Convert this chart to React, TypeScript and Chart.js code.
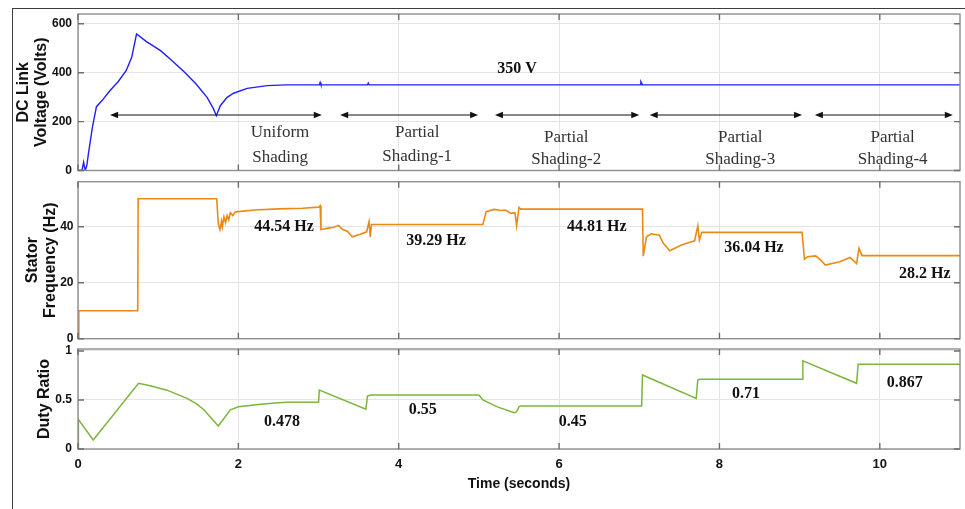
import React, { useEffect, useRef } from 'react';
import { Chart, registerables } from 'chart.js';

Chart.register(...registerables);

// ---------- shared x axis ----------
const X_TICKS = [0, 2, 4, 6, 8, 10];
const X_MIN = 0;
const X_MAX = 11;
const X_TITLE = 'Time (seconds)';

// ---------- panel 1: DC link voltage ----------
const VOLT_T = [0, 0.05, 0.07, 0.09, 0.11, 0.13, 0.18, 0.23, 0.3, 0.4, 0.5, 0.6, 0.67, 0.73, 0.85, 1.03, 1.17, 1.32, 1.47, 1.61, 1.69, 1.725, 1.775, 1.86, 1.94, 2.11, 2.36, 2.6, 3.01, 3.02, 3.03, 3.61, 3.62, 3.63, 7.01, 7.02, 7.04, 11];
const VOLT_V = [0, 0, 34, 0, 20, 69, 177, 261, 286, 327, 363, 408, 463, 558, 528, 490, 450, 405, 355, 299, 252, 224, 265, 299, 316, 336, 347, 350, 350, 360, 350, 350, 357, 350, 350, 363, 350, 350];
const VOLT_TICKS = [0, 200, 400, 600];
const VOLT_MAX = 640;
const VOLT_TITLE = ['DC Link', 'Voltage (Volts)'];
const VOLT_LABEL = '350 V';
const REGION_NAMES = [
  ['Uniform', 'Shading'],
  ['Partial', 'Shading-1'],
  ['Partial', 'Shading-2'],
  ['Partial', 'Shading-3'],
  ['Partial', 'Shading-4'],
];
const REGION_SPANS = [
  [0.4, 3.04],
  [3.27, 4.99],
  [5.2, 7.0],
  [7.13, 9.03],
  [9.19, 10.91],
];

// ---------- panel 2: stator frequency ----------
const FREQ_T = [0, 0.01, 0.745, 0.75, 1.73, 1.75, 1.77, 1.79, 1.8, 1.82, 1.84, 1.86, 1.88, 1.9, 1.93, 1.96, 2.0, 2.2, 2.5, 2.8, 3.0, 3.02, 3.03, 3.12, 3.19, 3.25, 3.3, 3.36, 3.42, 3.52, 3.6, 3.63, 3.645, 3.66, 5.05, 5.09, 5.19, 5.27, 5.33, 5.4, 5.45, 5.47, 5.5, 5.52, 7.04, 7.05, 7.09, 7.15, 7.25, 7.3, 7.38, 7.52, 7.6, 7.69, 7.73, 7.75, 7.78, 9.03, 9.06, 9.1, 9.2, 9.27, 9.32, 9.5, 9.63, 9.71, 9.74, 9.78, 11];
const FREQ_F = [0, 10, 10, 50, 50, 41, 39, 42, 40, 43.5, 41.5, 44, 42.5, 45, 44, 45.3, 45.4, 46, 46.4, 46.6, 47, 47.5, 39, 39.5, 39.8, 40.5, 39, 38.4, 36.4, 37.3, 38.2, 41.8, 36.4, 40.8, 40.8, 45.4, 46.2, 45.8, 46, 44.8, 45, 40.3, 46.9, 46.3, 46.3, 29.5, 36.4, 37.5, 37, 34.1, 31.4, 33.4, 34.2, 35, 40.3, 35.2, 38, 38, 28.4, 29.3, 29.6, 27.9, 26.3, 27.5, 29, 26.8, 32.3, 29.7, 29.7];
const FREQ_TICKS = [0, 20, 40];
const FREQ_MAX = 56.1;
const FREQ_TITLE = ['Stator', 'Frequency (Hz)'];
const FREQ_LABELS = ['44.54 Hz', '39.29 Hz', '44.81 Hz', '36.04 Hz', '28.2 Hz'];

// ---------- panel 3: duty ratio ----------
const DUTY_T = [0, 0.005, 0.19, 0.755, 0.9, 1.11, 1.36, 1.47, 1.57, 1.75, 1.9, 2.0, 2.25, 2.42, 2.6, 3.0, 3.01, 3.59, 3.61, 3.65, 5.0, 5.05, 5.23, 5.44, 5.47, 5.5, 5.52, 7.03, 7.04, 7.71, 7.73, 7.75, 9.03, 9.04, 9.71, 9.73, 11];
const DUTY_D = [0, 0.3, 0.092, 0.67, 0.645, 0.6, 0.517, 0.465, 0.4, 0.235, 0.4, 0.43, 0.455, 0.466, 0.476, 0.476, 0.6, 0.405, 0.54, 0.551, 0.551, 0.5, 0.43, 0.37, 0.38, 0.43, 0.439, 0.439, 0.755, 0.517, 0.704, 0.711, 0.711, 0.9, 0.67, 0.864, 0.864];
const DUTY_TICKS = [0, 0.5, 1];
const DUTY_MAX = 1.02;
const DUTY_TITLE = 'Duty Ratio';
const DUTY_LABELS = ['0.478', '0.55', '0.45', '0.71', '0.867'];

// ---------- annotation placement (data units) ----------
const VOLT_LABEL_POS = [5.475, 398];
const REGION_TEXT_POS = [
  [2.52, 135, 33],
  [4.23, 137, 40],
  [6.09, 118, 27],
  [8.26, 118, 27],
  [10.16, 118, 27],
];
const ARROW_LEVEL = 227;
const FREQ_LABEL_POS = [
  [2.57, 38.6],
  [4.465, 33.5],
  [6.47, 38.6],
  [8.43, 30.9],
  [10.56, 21.6],
];
const DUTY_LABEL_POS = [
  [2.544, 0.235],
  [4.3, 0.354],
  [6.17, 0.238],
  [8.33, 0.52],
  [10.31, 0.63],
];

const SANS = '"Liberation Sans", Arial, Helvetica, sans-serif';
const SERIF = '"Liberation Serif", "Times New Roman", Times, serif';

type TextItem = { x: number; y: number; text: string; font: string; color: string };
type ArrowItem = { x1: number; x2: number; y: number };

function decorPlugin(texts: TextItem[], arrows: ArrowItem[]) {
  return {
    id: 'decor',
    afterDatasetsDraw(chart: any) {
      const { ctx, chartArea: a, scales } = chart;
      const xs = scales.x;
      const ys = scales.y;
      ctx.save();
      // box
      ctx.strokeStyle = '#8e8e8e';
      ctx.lineWidth = 1.4;
      ctx.strokeRect(a.left, a.top, a.right - a.left, a.bottom - a.top);
      // inward tick marks
      ctx.strokeStyle = '#6e6e6e';
      ctx.lineWidth = 1.4;
      ctx.beginPath();
      const L = 6;
      xs.ticks.forEach((tk: any) => {
        const px = xs.getPixelForValue(tk.value);
        ctx.moveTo(px, a.bottom);
        ctx.lineTo(px, a.bottom - L);
        ctx.moveTo(px, a.top);
        ctx.lineTo(px, a.top + L);
      });
      ys.ticks.forEach((tk: any) => {
        const py = ys.getPixelForValue(tk.value);
        ctx.moveTo(a.left, py);
        ctx.lineTo(a.left + L, py);
        ctx.moveTo(a.right, py);
        ctx.lineTo(a.right - L, py);
      });
      ctx.stroke();
      // arrows
      ctx.strokeStyle = '#111';
      ctx.fillStyle = '#111';
      ctx.lineWidth = 1.2;
      arrows.forEach((ar) => {
        const x1 = xs.getPixelForValue(ar.x1);
        const x2 = xs.getPixelForValue(ar.x2);
        const y = ys.getPixelForValue(ar.y);
        ctx.beginPath();
        ctx.moveTo(x1 + 4, y);
        ctx.lineTo(x2 - 4, y);
        ctx.stroke();
        ctx.beginPath();
        ctx.moveTo(x1, y);
        ctx.lineTo(x1 + 8, y - 3.2);
        ctx.lineTo(x1 + 8, y + 3.2);
        ctx.closePath();
        ctx.fill();
        ctx.beginPath();
        ctx.moveTo(x2, y);
        ctx.lineTo(x2 - 8, y - 3.2);
        ctx.lineTo(x2 - 8, y + 3.2);
        ctx.closePath();
        ctx.fill();
      });
      // texts
      ctx.textAlign = 'center';
      ctx.textBaseline = 'alphabetic';
      texts.forEach((t) => {
        ctx.font = t.font;
        ctx.fillStyle = t.color;
        ctx.fillText(t.text, xs.getPixelForValue(t.x), ys.getPixelForValue(t.y));
      });
      ctx.restore();
    },
  };
}

type PanelOpts = {
  xs: number[];
  ys: number[];
  color: string;
  lw: number;
  yMax: number;
  yTicks: number[];
  yTitle: string | string[];
  titlePad: number;
  tickPad: number;
  padTop: number;
  padBottom: number;
  showX: boolean;
  texts: TextItem[];
  arrows: ArrowItem[];
};

function makeConfig(p: PanelOpts): any {
  return {
    type: 'line',
    data: {
      datasets: [
        {
          data: p.xs.map((x, i) => ({ x, y: p.ys[i] })),
          borderColor: p.color,
          borderWidth: p.lw,
          pointRadius: 0,
          tension: 0,
          fill: false,
        },
      ],
    },
    options: {
      responsive: false,
      animation: false,
      events: [],
      layout: { padding: { left: 0, right: 5, top: p.padTop, bottom: p.padBottom } },
      plugins: { legend: { display: false }, tooltip: { enabled: false } },
      scales: {
        x: {
          type: 'linear',
          min: X_MIN,
          max: X_MAX,
          afterBuildTicks: (ax: any) => {
            ax.ticks = X_TICKS.map((v) => ({ value: v }));
          },
          grid: { color: '#e4e4e4', lineWidth: 1, drawTicks: false },
          border: { display: false },
          ticks: {
            display: p.showX,
            padding: 8,
            color: '#111',
            font: { family: SANS, size: 13, weight: 'bold' },
            callback: (v: any) => String(v),
          },
          title: {
            display: p.showX,
            text: X_TITLE,
            color: '#111',
            font: { family: SANS, size: 14, weight: 'bold' },
            padding: { top: 0, bottom: 16 },
          },
          afterFit: (ax: any) => {
            ax.height = p.showX ? 60 : 0;
            ax.paddingLeft = 0;
            ax.paddingRight = 0;
            ax.paddingTop = 0;
            ax.paddingBottom = 0;
          },
        },
        y: {
          type: 'linear',
          min: 0,
          max: p.yMax,
          afterBuildTicks: (ax: any) => {
            ax.ticks = p.yTicks.map((v) => ({ value: v }));
          },
          grid: { color: '#e4e4e4', lineWidth: 1, drawTicks: false },
          border: { display: false },
          ticks: {
            padding: p.tickPad,
            color: '#111',
            font: { family: SANS, size: 12, weight: 'bold' },
            callback: (v: any) => String(v),
          },
          title: {
            display: true,
            text: p.yTitle,
            color: '#111',
            font: { family: SANS, size: 16, weight: 'bold', lineHeight: 1.15 },
            padding: { top: p.titlePad, bottom: 0 },
          },
          afterFit: (ax: any) => {
            ax.width = 78;
            ax.paddingLeft = 0;
            ax.paddingRight = 0;
            ax.paddingTop = 0;
            ax.paddingBottom = 0;
          },
        },
      },
    },
    plugins: [decorPlugin(p.texts, p.arrows)],
  };
}

export default function App() {
  const r1 = useRef<HTMLCanvasElement>(null);
  const r2 = useRef<HTMLCanvasElement>(null);
  const r3 = useRef<HTMLCanvasElement>(null);

  useEffect(() => {
    const regionFont = `17px ${SERIF}`;
    const valFont = `bold 16px ${SERIF}`;
    const voltTexts: TextItem[] = [
      { x: VOLT_LABEL_POS[0], y: VOLT_LABEL_POS[1], text: VOLT_LABEL, font: valFont, color: '#111' },
    ];
    REGION_NAMES.forEach((lines, i) => {
      const pos = REGION_TEXT_POS[i];
      voltTexts.push({ x: pos[0], y: pos[1], text: lines[0], font: regionFont, color: '#333' });
      voltTexts.push({ x: pos[0], y: pos[2], text: lines[1], font: regionFont, color: '#333' });
    });
    const voltArrows: ArrowItem[] = REGION_SPANS.map((s) => ({ x1: s[0], x2: s[1], y: ARROW_LEVEL }));

    const freqTexts: TextItem[] = FREQ_LABELS.map((t, i) => ({
      x: FREQ_LABEL_POS[i][0],
      y: FREQ_LABEL_POS[i][1],
      text: t,
      font: valFont,
      color: '#111',
    }));
    const dutyTexts: TextItem[] = DUTY_LABELS.map((t, i) => ({
      x: DUTY_LABEL_POS[i][0],
      y: DUTY_LABEL_POS[i][1],
      text: t,
      font: valFont,
      color: '#111',
    }));

    const charts = [
      new Chart(
        r1.current as HTMLCanvasElement,
        makeConfig({
          xs: VOLT_T, ys: VOLT_V, color: '#1f1fff', lw: 1.4,
          yMax: VOLT_MAX, yTicks: VOLT_TICKS, yTitle: VOLT_TITLE,
          titlePad: 14, tickPad: 6, padTop: 14, padBottom: 4.5, showX: false,
          texts: voltTexts, arrows: voltArrows,
        })
      ),
      new Chart(
        r2.current as HTMLCanvasElement,
        makeConfig({
          xs: FREQ_T, ys: FREQ_F, color: '#ea8a14', lw: 1.6,
          yMax: FREQ_MAX, yTicks: FREQ_TICKS, yTitle: FREQ_TITLE,
          titlePad: 23, tickPad: 4.5, padTop: 6.7, padBottom: 4.3, showX: false,
          texts: freqTexts, arrows: [],
        })
      ),
      new Chart(
        r3.current as HTMLCanvasElement,
        makeConfig({
          xs: DUTY_T, ys: DUTY_D, color: '#7cb53c', lw: 1.5,
          yMax: DUTY_MAX, yTicks: DUTY_TICKS, yTitle: DUTY_TITLE,
          titlePad: 35, tickPad: 6, padTop: 6, padBottom: 0, showX: true,
          texts: dutyTexts, arrows: [],
        })
      ),
    ];
    return () => charts.forEach((c) => c.destroy());
  }, []);

  return (
    <div style={{ position: 'fixed', left: 0, top: 0, width: 965, height: 509, background: '#fff', overflow: 'hidden' }}>
      <div
        style={{
          position: 'absolute', left: 12, top: 8, width: 953, height: 501,
          borderTop: '1.5px solid #3c3c3c', borderLeft: '1.5px solid #3c3c3c', boxSizing: 'border-box',
        }}
      />
      <canvas ref={r1} width={965} height={175} style={{ position: 'absolute', left: 0, top: 0 }} />
      <canvas ref={r2} width={965} height={168} style={{ position: 'absolute', left: 0, top: 175 }} />
      <canvas ref={r3} width={965} height={166} style={{ position: 'absolute', left: 0, top: 343 }} />
    </div>
  );
}
